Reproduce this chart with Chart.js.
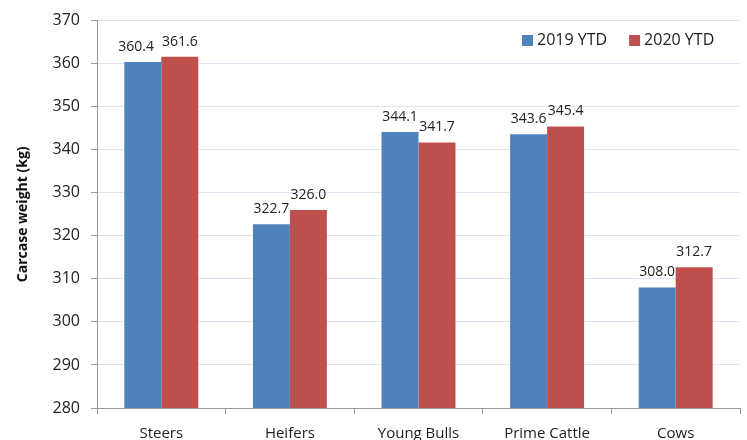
<!DOCTYPE html>
<html>
<head>
<meta charset="utf-8">
<script src="https://cdn.jsdelivr.net/npm/chart.js@4.4.0/dist/chart.umd.min.js"></script>
<style>
  html, body { margin: 0; padding: 0; background: #fff; }
  #wrap { width: 747px; height: 440px; }
</style>
</head>
<body>
<div id="wrap"><canvas id="myChart" width="747" height="440"></canvas></div>
<script>
// categories and values
const categories = ["Steers", "Heifers", "Young Bulls", "Prime Cattle", "Cows"];
const ytd2019 = [360.4, 322.7, 344.1, 343.6, 308.0];
const ytd2020 = [361.6, 326.0, 341.7, 345.4, 312.7];
const seriesNames = ["2019 YTD", "2020 YTD"];
const yMin = 280, yMax = 370, yStep = 10;

const fontFam = "'Open Sans', 'DejaVu Sans', sans-serif";

// value labels above each bar, nudged apart when two of them touch
const barLabels = {
  id: "barLabels",
  afterDatasetsDraw(chart) {
    const ctx = chart.ctx;
    ctx.save();
    ctx.font = "14px " + fontFam;
    ctx.fillStyle = "#222";
    ctx.textAlign = "center";
    ctx.textBaseline = "bottom";
    const m0 = chart.getDatasetMeta(0).data;
    const m1 = chart.getDatasetMeta(1).data;
    m0.forEach((bar, j) => {
      const t0 = ytd2019[j].toFixed(1), t1 = ytd2020[j].toFixed(1);
      const b1 = m1[j];
      let x0 = bar.x;
      const w0 = ctx.measureText(t0).width, w1 = ctx.measureText(t1).width;
      const gap = (b1.x - w1 / 2) - (x0 + w0 / 2);
      if (Math.abs(bar.y - b1.y) < 7 && gap < 8) x0 -= (8 - gap);
      ctx.fillText(t0, x0, bar.y - 8);
      ctx.fillText(t1, b1.x, b1.y - 8);
    });
    ctx.restore();
  }
};

// legend in the top right corner of the plot
const cornerLegend = {
  id: "cornerLegend",
  afterDraw(chart) {
    const ctx = chart.ctx;
    ctx.save();
    ctx.font = "16px " + fontFam;
    ctx.textBaseline = "middle";
    let x = 522;
    const y = 40;
    chart.data.datasets.forEach((ds) => {
      ctx.fillStyle = ds.backgroundColor;
      ctx.fillRect(x, y - 5, 11, 11);
      ctx.fillStyle = "#222";
      ctx.fillText(ds.label, x + 15, y);
      x += 15 + ctx.measureText(ds.label).width + 22;
    });
    ctx.restore();
  }
};

const data = {
  labels: categories,
  datasets: [
    { label: seriesNames[0], data: ytd2019, backgroundColor: "#4f81bd" },
    { label: seriesNames[1], data: ytd2020, backgroundColor: "#c0504d" }
  ]
};

const config = {
  type: "bar",
  data: data,
  options: {
    responsive: false,
    animation: false,
    layout: { padding: { top: 20, right: 7, left: 0, bottom: 0 } },
    datasets: { bar: { barPercentage: 1, categoryPercentage: 0.575 } },
    plugins: { legend: { display: false }, tooltip: { enabled: false } },
    scales: {
      x: {
        afterFit: (s) => { s.height = 32; },
        grid: { drawOnChartArea: false, drawTicks: true, tickLength: 6, color: "#9a9a9a", offset: true },
        border: { color: "#9a9a9a" },
        ticks: { color: "#222", font: { family: fontFam, size: 15 }, padding: 11, maxRotation: 0 }
      },
      y: {
        min: yMin,
        max: yMax,
        afterFit: (s) => { s.width = 97; },
        grid: { color: "#dce6f2", tickColor: "#9a9a9a", tickLength: 6 },
        border: { color: "#9a9a9a" },
        ticks: { stepSize: yStep, color: "#222", font: { family: fontFam, size: 16 }, padding: 11 },
        title: {
          display: true,
          text: "Carcase weight (kg)",
          color: "#111",
          font: { family: fontFam, size: 14, weight: "bold" },
          padding: { top: 15, bottom: 0 }
        }
      }
    }
  },
  plugins: [barLabels, cornerLegend]
};

const myChart = new Chart(document.getElementById("myChart"), config);
</script>
</body>
</html>
